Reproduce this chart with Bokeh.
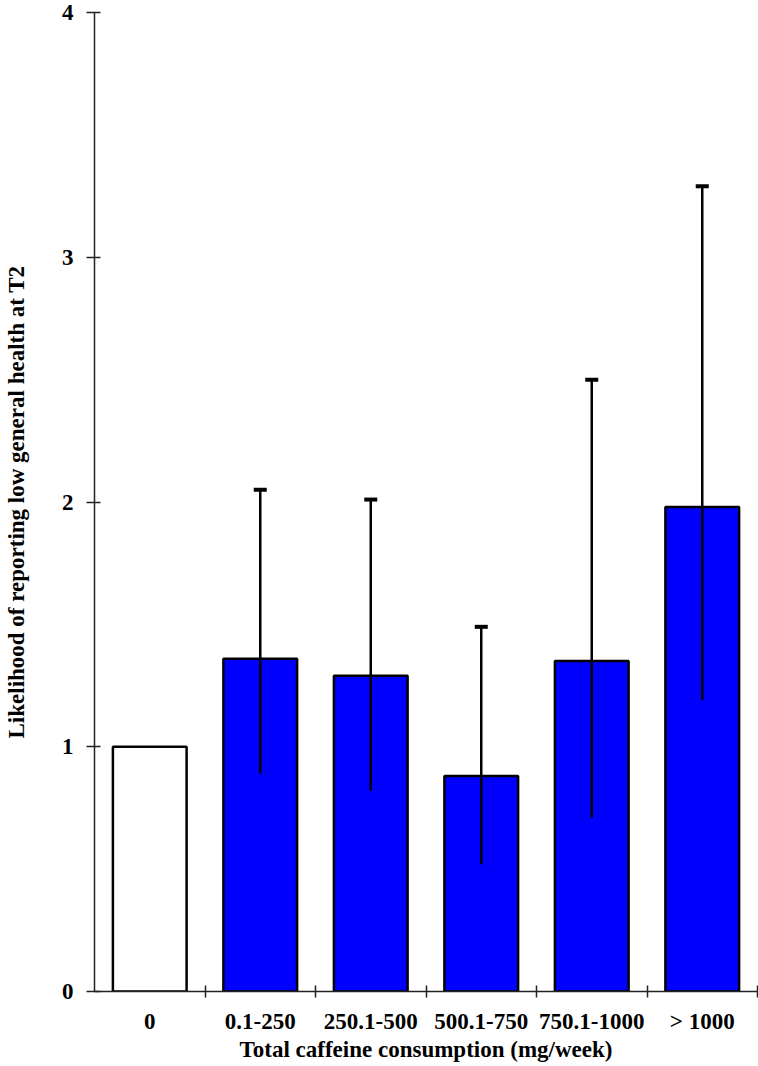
from bokeh.plotting import figure
from bokeh.models import FixedTicker, Range1d, Whisker, TeeHead, ColumnDataSource
from bokeh.embed import file_html
from bokeh.resources import INLINE

categories = ["0", "0.1-250", "250.1-500", "500.1-750", "750.1-1000", "> 1000"]
odds = [1.0, 1.36, 1.29, 0.88, 1.35, 1.98]
ci_lower = [None, 0.89, 0.82, 0.52, 0.71, 1.19]
ci_upper = [None, 2.05, 2.01, 1.49, 2.50, 3.29]
fills = ["white", "blue", "blue", "blue", "blue", "blue"]
y_ticks = [0, 1, 2, 3, 4]

FONT = "Liberation Serif"
FS = "23px"
xs = [i + 0.5 for i in range(len(categories))]

p = figure(width=758, height=1064, output_backend="svg", toolbar_location=None,
           x_range=Range1d(0, len(categories)), y_range=Range1d(0, 4),
           min_border_left=92, min_border_right=1, min_border_top=12, min_border_bottom=73)
p.outline_line_color = None
p.xgrid.visible = False
p.ygrid.visible = False

src = ColumnDataSource(dict(x=xs, top=odds, fill=fills))
p.vbar(x="x", top="top", bottom=0, width=0.667, source=src, fill_color="fill",
       line_color="black", line_width=2.5)

ex = [xs[i] for i in range(len(xs)) if ci_lower[i] is not None]
el = [v for v in ci_lower if v is not None]
eu = [v for v in ci_upper if v is not None]
esrc = ColumnDataSource(dict(x=ex, lower=el, upper=eu))
w = Whisker(base="x", lower="lower", upper="upper", source=esrc,
            line_color="black", line_width=2.5, level="overlay",
            upper_head=TeeHead(size=13, line_width=4, line_color="black"),
            lower_head=None)
p.add_layout(w)

# x axis
xa = p.xaxis[0]
xa.ticker = FixedTicker(ticks=xs, minor_ticks=list(range(1, len(categories) + 1)))
xa.major_label_overrides = {x: c for x, c in zip(xs, categories)}
xa.major_tick_in = 0
xa.major_tick_out = 0
xa.minor_tick_in = 6
xa.minor_tick_out = 6
xa.minor_tick_line_color = "#222222"
xa.minor_tick_line_width = 1.5
xa.axis_line_color = "#222222"
xa.axis_line_width = 1.5
xa.major_label_text_font = FONT
xa.major_label_text_font_style = "bold"
xa.major_label_text_font_size = FS
xa.major_label_text_color = "black"
xa.major_label_standoff = 11
xa.axis_label = "Total caffeine consumption (mg/week)"
xa.axis_label_text_font = FONT
xa.axis_label_text_font_style = "bold"
xa.axis_label_text_font_size = FS
xa.axis_label_text_color = "black"
xa.axis_label_standoff = 0

# y axis
ya = p.yaxis[0]
ya.ticker = FixedTicker(ticks=y_ticks, minor_ticks=[])
ya.major_tick_in = 6
ya.major_tick_out = 8
ya.major_tick_line_color = "#222222"
ya.major_tick_line_width = 1.5
ya.axis_line_color = "#222222"
ya.axis_line_width = 1.5
ya.major_label_text_font = FONT
ya.major_label_text_font_style = "bold"
ya.major_label_text_font_size = FS
ya.major_label_text_color = "black"
ya.major_label_standoff = 13
ya.axis_label = "Likelihood of reporting low general health at T2"
ya.axis_label_text_font = FONT
ya.axis_label_text_font_style = "bold"
ya.axis_label_text_font_size = FS
ya.axis_label_text_color = "black"
ya.axis_label_standoff = 30

open("out.html", "w").write(file_html(p, INLINE))
